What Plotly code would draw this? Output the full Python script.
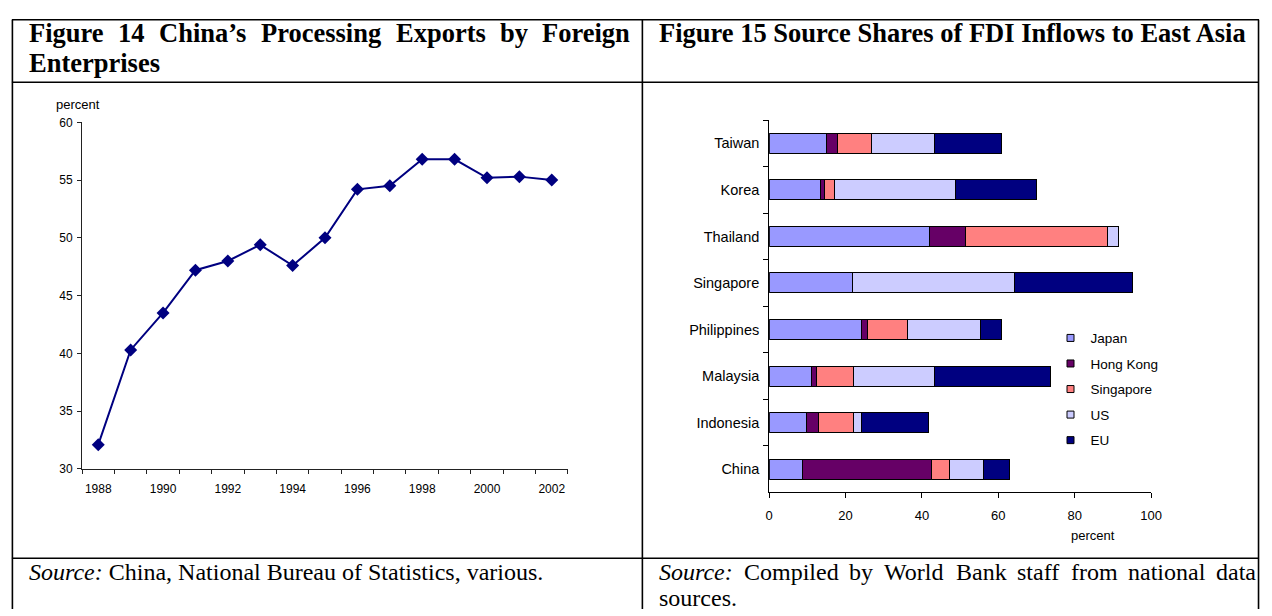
import plotly.graph_objects as go

W, H = 1272, 616

# ---------------- data ----------------
years = list(range(1988, 2003))
processing_share = [32.1, 40.3, 43.5, 47.2, 48.0, 49.4, 47.6, 50.0, 54.2, 54.5, 56.8, 56.8, 55.2, 55.3, 55.0]
year_tick_labels = ["1988", "1990", "1992", "1994", "1996", "1998", "2000", "2002"]
left_y_ticks = [30, 35, 40, 45, 50, 55, 60]

economies = ["Taiwan", "Korea", "Thailand", "Singapore", "Philippines", "Malaysia", "Indonesia", "China"]
japan = [14.9, 13.4, 41.9, 21.7, 24.3, 11.1, 9.7, 8.7]
hong_kong = [3.0, 1.1, 9.5, 0.0, 1.5, 1.3, 3.1, 33.8]
singapore = [9.0, 2.6, 37.3, 0.0, 10.4, 9.8, 9.3, 4.6]
us = [16.5, 31.6, 2.7, 42.5, 19.2, 21.2, 2.0, 9.0]
eu = [17.4, 21.4, 0.0, 30.9, 5.4, 30.4, 17.5, 6.8]
source_names = ["Japan", "Hong\u00a0Kong", "Singapore", "US", "EU"]
source_colors = ["#9999FF", "#660066", "#FF8080", "#CCCCFF", "#000080"]
right_x_ticks = [0, 20, 40, 60, 80, 100]

title_left_1 = "Figure 14 China\u2019s Processing Exports by Foreign"
title_left_2 = "Enterprises"
title_right = "Figure 15 Source Shares of FDI Inflows to East Asia"
source_left = ("Source:", "China, National Bureau of Statistics, various.")
source_right_1 = ("Source:", "Compiled by World Bank staff from national data")
source_right_2 = "sources."


def px(x):
    return x / W


def py(y):
    return 1 - y / H


SANS = "Liberation Sans, Arial, sans-serif"
SERIF = "Liberation Serif, Times New Roman, serif"

# Times metrics (em) used only to justify lines like the original document
TB = dict(zip("FigureChinas\u2019PocxptbyEnrsSShFDIlwtA1456 ",
              [.611, .278, .5, .556, .444, .444, .722, .556, .278, .556, .5, .389, .333, .611, .5, .444,
               .5, .556, .333, .556, .5, .667, .556, .444, .389, .556, .556, .556, .611, .722, .389, .278,
               .722, .333, .722, .5, .5, .5, .5, .25]))
TR = {"S": .556, "o": .5, "u": .5, "r": .333, "c": .444, "e": .444, ":": .278, "C": .667, "h": .5,
      "i": .278, "n": .5, "a": .444, ",": .25, "N": .722, "t": .278, "l": .278, "B": .667, "f": .333,
      "s": .389, "v": .5, ".": .25, "m": .778, "p": .5, "d": .5, "b": .5, "y": .5, "W": .944, "k": .5,
      " ": .25}
TI = {"S": .5, "o": .5, "u": .5, "r": .389, "c": .444, "e": .444, ":": .333}


def wwidth(word, table, size):
    return sum(table.get(ch, .5) for ch in word) * size


fig = go.Figure()

# ---------------- left: line chart ----------------
fig.add_trace(go.Scatter(
    x=years, y=processing_share, mode="lines+markers",
    line=dict(color="#000080", width=2),
    marker=dict(symbol="diamond", size=10, color="#000080"),
    xaxis="x", yaxis="y", showlegend=False, hoverinfo="x+y"))

# ---------------- right: stacked bars ----------------
series = [japan, hong_kong, singapore, us, eu]
for name, vals, col in zip(source_names, series, source_colors):
    fig.add_trace(go.Bar(
        y=economies, x=vals, orientation="h", name=name,
        marker=dict(color=col, line=dict(color="black", width=1)),
        xaxis="x2", yaxis="y2", showlegend=False))
for i, (name, col) in enumerate(zip(source_names, source_colors)):
    fig.add_trace(go.Scatter(
        x=[None], y=[None], mode="markers", name=name,
        marker=dict(symbol="square", size=7, color=col, line=dict(color="black", width=1)),
        xaxis="x2", yaxis="y2", showlegend=True, legendgroup="g%d" % i))

AX = "#222222"
fig.update_layout(
    width=W, height=H,
    margin=dict(l=0, r=0, t=0, b=0),
    paper_bgcolor="white", plot_bgcolor="white",
    barmode="stack", bargap=0.57,
    font=dict(family=SANS, size=12, color="black"),
    xaxis=dict(
        domain=[px(79), px(570.7)], anchor="y",
        range=[1987.5, 2002.5], tickmode="array",
        tickvals=[int(t) for t in year_tick_labels], ticktext=year_tick_labels,
        ticks="", showline=True, linecolor=AX, linewidth=1,
        showgrid=False, zeroline=False, ticklabelstandoff=9,
        tickfont=dict(size=12, family=SANS),
        minor=dict(tick0=1987.5, dtick=1, ticks="outside", ticklen=4,
                   tickcolor=AX, showgrid=False),
    ),
    yaxis=dict(
        domain=[py(472.7), py(118)], anchor="x",
        range=[30, 60], tickmode="array", tickvals=left_y_ticks,
        ticks="outside", ticklen=4, tickcolor=AX,
        showline=True, linecolor=AX, linewidth=1,
        showgrid=False, zeroline=False, ticklabelstandoff=2,
        tickfont=dict(size=12, family=SANS),
    ),
    xaxis2=dict(
        domain=[px(774.3), px(1160.7)], anchor="y2",
        range=[0, 100], tickmode="array", tickvals=right_x_ticks,
        ticks="outside", ticklen=5, tickcolor="black",
        showline=True, linecolor="black", linewidth=1,
        showgrid=False, zeroline=False, ticklabelstandoff=6,
        tickfont=dict(size=13, family=SANS),
    ),
    yaxis2=dict(
        domain=[py(496.7), py(115.7)], anchor="x2",
        type="category", categoryorder="array", categoryarray=economies,
        autorange="reversed", tickson="boundaries",
        ticks="outside", ticklen=5, tickcolor="black",
        showline=True, linecolor="black", linewidth=1,
        showgrid=False, zeroline=False, ticklabelstandoff=6,
        tickfont=dict(size=14.5, family=SANS),
    ),
    legend=dict(
        x=px(1059), y=py(323), xanchor="left", yanchor="top",
        bgcolor="rgba(0,0,0,0)", font=dict(size=13.5, family=SANS),
        tracegroupgap=5, itemwidth=30,
    ),
)

# ---------------- table frame ----------------
lw = 1.6
shapes = []
for yy in [13, 77, 564]:
    shapes.append(dict(type="line", xref="paper", yref="paper",
                       x0=px(8), x1=px(1270), y0=py(yy), y1=py(yy),
                       line=dict(color="black", width=lw)))
for xx in [8.5, 646, 1269.5]:
    shapes.append(dict(type="line", xref="paper", yref="paper",
                       x0=px(xx), x1=px(xx), y0=py(13), y1=py(616),
                       line=dict(color="black", width=lw)))
fig.update_layout(shapes=shapes)

# ---------------- texts ----------------
ann = []


def text(x, y, s, size, family=SANS, xanchor="left"):
    ann.append(dict(xref="paper", yref="paper", x=px(x), y=py(y), text=s,
                    showarrow=False, xanchor=xanchor, yanchor="middle", borderpad=0,
                    font=dict(size=size, family=family, color="black")))


def justified(words, x0, x1, y, size, tables, fmt):
    widths = [wwidth(w, t, size) for w, t in zip(words, tables)]
    gap = (x1 - x0 - sum(widths)) / (len(words) - 1)
    x = x0
    for w, wd, f in zip(words, widths, fmt):
        text(x, y, f % w, size, SERIF)
        x += wd + gap


HS = 26.5
w1 = title_left_1.split(" ")
justified(w1, 24, 632, 27, HS, [TB] * len(w1), ["<b>%s</b>"] * len(w1))
text(24, 57.5, "<b>%s</b>" % title_left_2, HS, SERIF)
text(662, 27, "<b>%s</b>" % title_right, HS, SERIF)

SS = 24
text(24, 578, "<i>%s</i> %s" % source_left, SS, SERIF)
w2 = [source_right_1[0]] + source_right_1[1].split(" ")
justified(w2, 662, 1265, 578, SS, [TI] + [TR] * (len(w2) - 1),
          ["<i>%s</i>"] + ["%s"] * (len(w2) - 1))
text(662, 605, source_right_2, SS, SERIF)

text(75, 100, "percent", 13, SANS, xanchor="center")
text(1101.7, 541, "percent", 13, SANS, xanchor="center")
fig.update_layout(annotations=ann)

fig.write_html(
    "out.html",
    config={"displayModeBar": False},
    post_script="document.documentElement.style.margin='0';document.body.style.margin='0';"
                "document.body.style.overflow='hidden';",
)
